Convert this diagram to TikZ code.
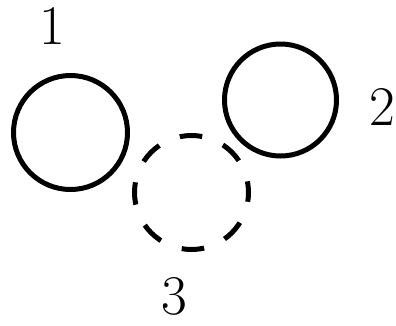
\documentclass[tikz,border=0pt]{standalone}
\begin{document}
\begin{tikzpicture}[x=1pt,y=-1pt,
  ring/.style={circle,draw=black,line width=5pt,minimum size=#1,inner sep=0pt},
  dashring/.style={ring=#1,dash pattern=on 22.5pt off 22.5pt,dash phase=11.25pt},
  lbl/.style={inner sep=0pt,font=\rmfamily\fontsize{56}{60}\selectfont}]
\useasboundingbox (0,0) rectangle (396,325);
\node[ring=114pt] (c1) at (70.5,132.5) {};
\node[ring=112pt] (c2) at (280.5,100) {};
\node[dashring=114pt] (c3) at (191.5,192.5) {};
\node[lbl] (l1) at (52,26) {1};
\node[lbl] (l2) at (382,107) {2};
\node[lbl] (l3) at (174,296) {3};
\end{tikzpicture}
\end{document}
